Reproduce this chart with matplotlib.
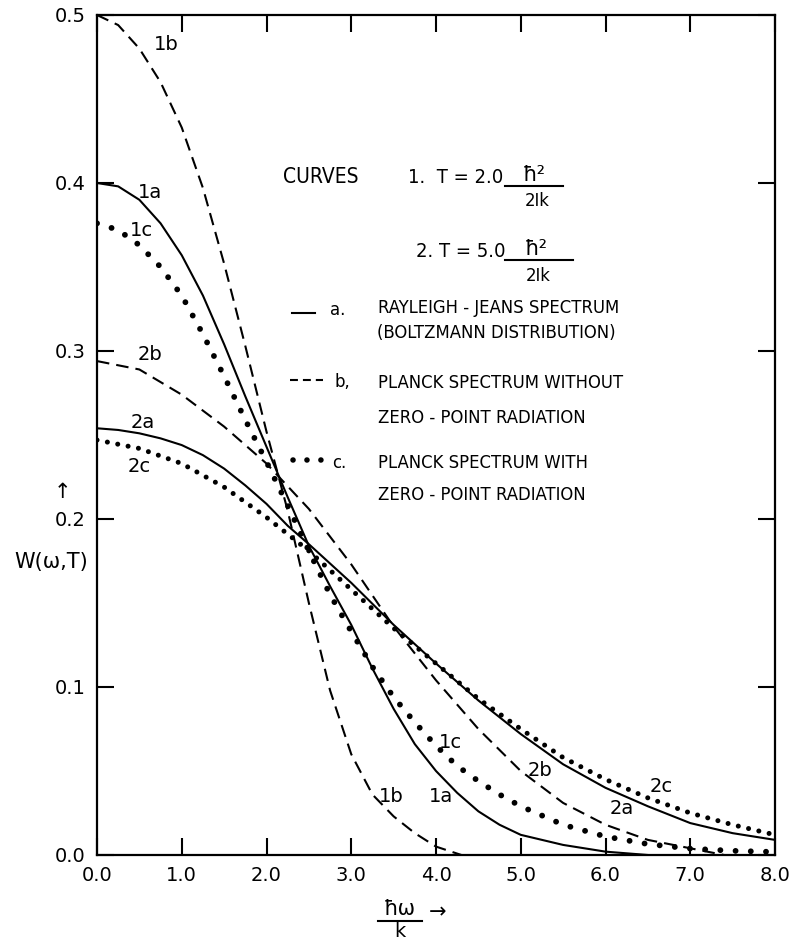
import matplotlib
matplotlib.use("Agg")
import matplotlib.pyplot as plt
from matplotlib.lines import Line2D

# values (x = hbar*omega/k, y = W(omega, T))
x_1a = [0.0, 0.25, 0.5, 0.75, 1.0, 1.25, 1.5, 1.75, 2.0, 2.25, 2.5, 2.75, 3.0, 3.25,
        3.5, 3.75, 4.0, 4.25, 4.5, 4.75, 5.0, 5.5, 6.0, 6.5]
w_1a = [0.400, 0.398, 0.390, 0.376, 0.357, 0.333, 0.304, 0.273, 0.243, 0.213, 0.184,
        0.160, 0.137, 0.111, 0.087, 0.066, 0.050, 0.037, 0.026, 0.018, 0.012, 0.006,
        0.002, 0.0]

x_1b = [0.0, 0.25, 0.5, 0.75, 1.0, 1.25, 1.5, 1.75, 2.0, 2.25, 2.5, 2.75, 3.0, 3.25,
        3.5, 3.75, 4.0, 4.3]
w_1b = [0.500, 0.494, 0.480, 0.460, 0.433, 0.397, 0.352, 0.303, 0.252, 0.205, 0.150,
        0.098, 0.060, 0.036, 0.023, 0.013, 0.005, 0.0]

x_1c = [0.0, 0.25, 0.5, 0.75, 1.0, 1.25, 1.5, 1.75, 2.0, 2.25, 2.5, 2.75, 3.0, 3.25,
        3.5, 3.75, 4.0, 4.25, 4.5, 4.75, 5.0, 5.5, 6.0, 6.5, 7.0, 7.5, 8.0]
w_1c = [0.376, 0.372, 0.363, 0.350, 0.333, 0.310, 0.285, 0.259, 0.234, 0.208, 0.181,
        0.155, 0.133, 0.112, 0.094, 0.079, 0.065, 0.053, 0.044, 0.036, 0.029, 0.018,
        0.011, 0.0065, 0.0038, 0.0025, 0.0018]

x_2a = [0.0, 0.25, 0.5, 0.75, 1.0, 1.25, 1.5, 1.75, 2.0, 2.25, 2.5, 3.0, 3.5, 4.0,
        4.5, 5.0, 5.5, 6.0, 6.5, 7.0, 7.5, 8.0]
w_2a = [0.254, 0.253, 0.251, 0.248, 0.244, 0.238, 0.230, 0.220, 0.209, 0.196, 0.185,
        0.162, 0.137, 0.114, 0.092, 0.072, 0.054, 0.040, 0.029, 0.019, 0.013, 0.009]

x_2b = [0.0, 0.5, 1.0, 1.5, 2.0, 2.5, 3.0, 3.5, 4.0, 4.5, 5.0, 5.5, 6.0, 6.5, 7.0, 7.4]
w_2b = [0.294, 0.289, 0.274, 0.255, 0.233, 0.206, 0.173, 0.136, 0.104, 0.075, 0.050,
        0.031, 0.018, 0.009, 0.004, 0.0]

x_2c = [0.0, 0.5, 1.0, 1.5, 2.0, 2.5, 3.0, 3.5, 4.0, 4.5, 5.0, 5.5, 6.0, 6.5, 7.0,
        7.5, 8.0]
w_2c = [0.247, 0.242, 0.233, 0.219, 0.201, 0.181, 0.158, 0.135, 0.114, 0.093, 0.075,
        0.058, 0.045, 0.034, 0.025, 0.018, 0.012]

x_ticks = [0, 1, 2, 3, 4, 5, 6, 7, 8]
y_ticks = [0.0, 0.1, 0.2, 0.3, 0.4, 0.5]

W, H = 802, 944


def fx(px):
    return px / W


def fy(py):
    return 1 - py / H


def ftext(px, py, s, **kw):
    fig.text(fx(px), fy(py), s, **kw)


def fline(x0, x1, y, **kw):
    fig.add_artist(Line2D([fx(x0), fx(x1)], [fy(y), fy(y)], color="black", **kw))


solid = dict(color="black", lw=1.5)
dashed = dict(color="black", lw=1.5, linestyle=(0, (6.0, 3.4)))
dots_1 = dict(color="black", lw=4.2, linestyle=(0, (0.01, 2.6)), dash_capstyle="round")
dots_2 = dict(color="black", lw=3.6, linestyle=(0, (0.01, 2.1)), dash_capstyle="round")

fig = plt.figure(figsize=(W / 100, H / 100), dpi=100)
ax = fig.add_axes([fx(97), fy(855), (775 - 97) / W, (855 - 15) / H])

ax.plot(x_1a, w_1a, **solid)
ax.plot(x_1b, w_1b, **dashed)
ax.plot(x_1c, w_1c, **dots_1)
ax.plot(x_2a, w_2a, **solid)
ax.plot(x_2b, w_2b, **dashed)
ax.plot(x_2c, w_2c, **dots_2)

ax.set_xlim(0, 8)
ax.set_ylim(0, 0.5)
ax.set_xticks(x_ticks)
ax.set_xticklabels([f"{v:.1f}" for v in x_ticks])
ax.set_yticks(y_ticks)
ax.set_yticklabels([f"{v:.1f}" for v in y_ticks])
ax.tick_params(direction="in", length=12, width=1.5, top=True, right=True,
               labelsize=14, pad=8)
for s in ax.spines.values():
    s.set_linewidth(1.6)

# curve labels
lab = dict(fontsize=14, ha="center", va="center")
for px, py, s in [(166, 45, "1b"), (150, 192, "1a"), (141, 230, "1c"),
                  (150, 355, "2b"), (143, 422, "2a"), (139, 466, "2c"),
                  (450, 742, "1c"), (391, 796, "1b"), (441, 796, "1a"),
                  (540, 770, "2b"), (661, 787, "2c"), (622, 808, "2a")]:
    ftext(px, py, s, **lab)

# temperature key
leg = dict(fontsize=13.2, family="DejaVu Sans", fontstretch="condensed", va="baseline")
ftext(283, 183, "CURVES", **dict(leg, fontsize=15))
ftext(503, 183, "1.  T = 2.0", ha="right", **dict(leg, fontsize=14.5))
ftext(534, 181, "ħ²", ha="center", fontsize=15, va="baseline")
fline(505, 563, 186, lw=1.5)
ftext(537, 206, "2Ik", ha="center", **leg)
ftext(505, 257, "2. T = 5.0", ha="right", **dict(leg, fontsize=14.5))
ftext(536, 255, "ħ²", ha="center", fontsize=15, va="baseline")
fline(505, 573, 260, lw=1.5)
ftext(538, 281, "2Ik", ha="center", **leg)

# line-style key
fline(292, 315, 313, lw=1.5)
ftext(330, 315, "a.", **leg)
ftext(378, 313, "RAYLEIGH - JEANS SPECTRUM", **leg)
ftext(377, 338, "(BOLTZMANN DISTRIBUTION)", **leg)

fline(290, 323, 380, lw=1.5, linestyle=(0, (3.8, 2.4)))
ftext(335, 387, "b,", **leg)
ftext(378, 388, "PLANCK SPECTRUM WITHOUT", **leg)
ftext(378, 423, "ZERO - POINT RADIATION", **leg)

fline(293, 321, 460, lw=4.0, linestyle=(0, (0.01, 2.5)), dash_capstyle="round")
ftext(332, 468, "c.", **leg)
ftext(378, 468, "PLANCK SPECTRUM WITH", **leg)
ftext(378, 500, "ZERO - POINT RADIATION", **leg)

# axis labels
ftext(62, 492, "↑", ha="center", va="center", fontsize=15)
ftext(51, 562, "W(ω,T)", ha="center", va="center", fontsize=15)
ftext(400, 915, "ħω", ha="center", va="baseline", fontsize=15)
fline(378, 422, 921, lw=1.5)
ftext(400, 937, "k", ha="center", va="baseline", fontsize=14)
ftext(438, 912, "→", ha="center", va="center", fontsize=15)

fig.savefig("out.png", dpi=100, facecolor="white")
